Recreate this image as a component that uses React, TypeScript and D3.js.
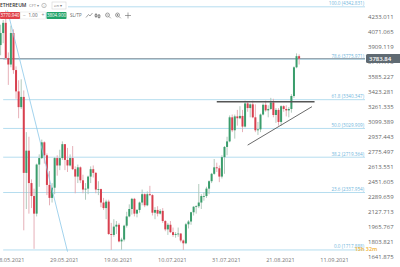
import React from 'react';
import * as d3 from 'd3';

const startDate = Date.UTC(2021, 4, 9);
const opens = [3900,3930,4060,4170,3790,3720,4060,3660,3430,3260,3370,2550,2790,2440,2300,2110,2640,2710,2880,2740,2420,2280,2390,2710,2630,2710,2860,2690,2630,2710,2590,2510,2610,2470,2370,2380,2510,2590,2550,2370,2375,2230,2170,2240,1890,1880,1970,1990,1810,1830,1980,2080,2160,2270,2110,2150,2230,2320,2200,2320,2310,2120,2150,2110,2140,2030,1940,1990,1910,1880,1890,1895,1820,1790,1995,2025,2125,2185,2190,2230,2300,2300,2380,2460,2540,2610,2600,2510,2720,2830,2890,3150,3010,3160,3140,3165,3050,3300,3250,3290,3150,3010,3020,3180,3285,3225,3240,3310,3175,3230,3100,3270,3240,3225,3240,3380,3690,3810];
const highs = [3980,4150,4200,4342,3850,4140,4100,3700,3550,3560,3440,2990,2940,2480,2380,2650,2750,2910,2890,2760,2570,2440,2720,2740,2800,2890,2860,2820,2750,2840,2620,2640,2620,2530,2440,2520,2620,2630,2560,2460,2380,2280,2260,2260,2010,2050,2030,2010,1850,1990,2130,2210,2280,2280,2160,2240,2370,2330,2350,2410,2320,2180,2190,2160,2170,2040,2010,2030,1960,1910,1960,1900,1830,2010,2040,2130,2190,2200,2430,2320,2340,2400,2470,2550,2700,2660,2630,2740,2840,2940,3170,3180,3180,3230,3270,3230,3330,3320,3300,3330,3290,3100,3190,3300,3330,3280,3360,3350,3250,3250,3280,3280,3280,3260,3400,3700,3840,3830];
const lows = [3800,3820,3950,3780,3500,3690,3620,3350,3140,3240,1930,2160,2110,2170,1730,2080,2400,2700,2650,2310,2200,2230,2320,2520,2580,2690,2580,2560,2620,2580,2330,2440,2440,2330,2260,2320,2440,2500,2330,2310,2180,2150,2050,1880,1718,1860,1890,1800,1720,1810,1960,2070,2100,2080,2070,2120,2200,2180,2190,2300,2090,2050,2080,2100,2010,1920,1880,1900,1860,1850,1860,1800,1718,1780,1950,1990,2090,2110,2170,2160,2250,2280,2320,2440,2530,2560,2450,2490,2540,2740,2880,2990,2920,3060,3130,2990,3040,3210,3150,3140,2990,2960,2990,3170,3210,3150,3230,3150,3090,3060,3060,3210,3160,3150,3200,3360,3680,3720];
const closes = [3930,4060,4170,3790,3720,4060,3660,3430,3260,3370,2550,2790,2440,2300,2110,2640,2710,2880,2740,2420,2280,2390,2710,2630,2710,2860,2690,2630,2710,2590,2510,2610,2470,2370,2380,2510,2590,2550,2370,2375,2230,2170,2240,1890,1880,1970,1990,1810,1830,1980,2080,2160,2270,2110,2150,2230,2320,2200,2320,2310,2120,2150,2110,2140,2030,1940,1990,1910,1880,1890,1895,1820,1790,1995,2025,2125,2185,2190,2230,2300,2300,2380,2460,2540,2610,2600,2510,2720,2830,2890,3150,3010,3160,3140,3165,3050,3300,3250,3290,3150,3010,3020,3180,3285,3225,3240,3310,3175,3230,3100,3270,3240,3225,3240,3380,3690,3810,3783.84];

const axisValues = [4233.011,4071.065,3909.119,3747.173,3585.227,3423.281,3261.335,3099.389,2937.443,2775.497,2613.551,2451.605,2289.659,2127.713,1965.767,1803.821,1641.875];
const dateTicks = ['2021-05-08','2021-05-29','2021-06-19','2021-07-10','2021-07-31','2021-08-21','2021-09-11'];
const dateTickLabels = ['08.05.2021','29.05.2021','19.06.2021','10.07.2021','31.07.2021','21.08.2021','11.09.2021'];
const fibRatios = ['100.0','78.6','61.8','50.0','38.2','23.6','0.0'];
const fibPrices = [4342.831,3775.971,3340.347,3029.909,2719.364,2337.954,1717.888];
const currentPrice = 3783.84;
const sellPrice = '3770.940';
const buyPrice = '3804.900';
const countdown = '15h 32m';
// user-drawn trend lines: [date, price] anchors
const blueLine = [['2021-05-12', 4380], ['2021-06-05', 1700]];
const resistLine = [['2021-08-02', 3318], ['2021-09-09', 3318]];
const supportLine = [['2021-08-14', 2850], ['2021-09-08', 3265]];

const GREEN = '#3a9d6c';
const RED = '#d8404f';
const GREEN_WICK = '#a9c4b6';
const RED_WICK = '#e3a7b0';
const FIB = '#b5ddef';
const FIB_TEXT = '#6fb6dc';

function parse(s: string) {
  const [yy, mm, dd] = s.split('-').map(Number);
  return new Date(Date.UTC(yy, mm - 1, dd));
}

export default function App() {
  const W = 400, H = 267;
  const x = d3.scaleUtc().domain([parse('2021-05-29'), parse('2021-09-11')]).range([49.5, 319.7]);
  const y = d3.scaleLinear().domain([1641.875, 4233.011]).range([257, 17]);
  const candles = closes.map((c, i) => ({
    date: d3.utcDay.offset(new Date(startDate), i), o: opens[i], h: highs[i], l: lows[i], c,
  }));
  const plotRight = 365;
  const font = '"Open Sans", "Noto Sans", sans-serif';
  const seg = (pts: any[]) => ({ x1: x(parse(pts[0][0])), y1: y(pts[0][1]), x2: x(parse(pts[1][0])), y2: y(pts[1][1]) });
  const bl = seg(blueLine), rl = seg(resistLine), sl = seg(supportLine);
  return (
    <div style={{ position: 'fixed', left: 0, top: 0, width: W, height: H, background: '#fff' }}>
      <svg width={W} height={H} style={{ display: 'block' }} fontFamily={font}>
        <defs>
          <clipPath id="plot"><rect x={0} y={0} width={plotRight} height={H} /></clipPath>
        </defs>
        <rect width={W} height={H} fill="#fff" />
        <g clipPath="url(#plot)">
          {fibPrices.map((p, i) => (
            <line key={i} x1={x(parse('2021-05-11'))} x2={plotRight} y1={y(p)} y2={y(p)} stroke={FIB} strokeWidth={1} />
          ))}
          <line x1={0} x2={plotRight} y1={y(currentPrice)} y2={y(currentPrice)} stroke="#9aa7b0" strokeWidth={1.2} />
          {candles.map((d, i) => {
            const cx = x(d.date);
            const up = d.c >= d.o;
            const top = y(Math.max(d.o, d.c));
            const bh = Math.max(0.8, Math.abs(y(d.o) - y(d.c)));
            return (
              <g key={i}>
                <line x1={cx} x2={cx} y1={y(d.h)} y2={y(d.l)} stroke={up ? GREEN_WICK : RED_WICK} strokeWidth={0.9} />
                <rect x={cx - 1} y={top} width={2} height={bh} fill={up ? GREEN : RED} />
              </g>
            );
          })}
          <line {...bl} stroke="#8cc8e8" strokeWidth={0.8} />
          <line {...rl} stroke="#555" strokeWidth={1.3} />
          <line {...sl} stroke="#444" strokeWidth={0.8} />
        </g>
        {fibRatios.map((r, i) => (
          <text key={i} x={364} y={y(fibPrices[i]) - 1.5} fontSize={4.6} fill={FIB_TEXT} textAnchor="end">
            {`${r} (${fibPrices[i].toFixed(3)})`}
          </text>
        ))}
        <text x={366} y={y(fibPrices[6]) + 1.5} fontSize={5.4} fontWeight={700} fill="#f2b233" fillOpacity={0.85} textAnchor="middle">{countdown}</text>
        {axisValues.map((v, i) => (
          <text key={i} x={368} y={y(v) + 2} fontSize={6} fill="#666">{v.toFixed(3)}</text>
        ))}
        <g>
          <rect x={366} y={y(currentPrice) - 4.5} width={36} height={9} rx={1.5} fill="#5f6a72" />
          <text x={369} y={y(currentPrice) + 2.2} fontSize={6} fill="#fff" fontWeight={600}>{currentPrice.toFixed(2)}</text>
        </g>
        {dateTicks.map((t, i) => (
          <text key={i} x={x(parse(t)) + 0.5} y={262} fontSize={5.6} fill="#777">{dateTickLabels[i]}</text>
        ))}
        <g>
          <rect x={0} y={0} width={68} height={10.5} fill="#fff" />
          <text x={0} y={7.3} fontSize={5} fontWeight={600} fill="#333">ETHEREUM</text>
          <text x={29} y={7.3} fontSize={4.2} fill="#888">CFT ▾</text>
          <circle cx={44} cy={5.5} r={2.2} fill="none" stroke="#888" strokeWidth={0.5} />
          <text x={43.4} y={7} fontSize={3.6} fill="#888">i</text>
          <rect x={52} y={2} width={14} height={7} fill="#fff" stroke="#ccc" strokeWidth={0.5} />
          <text x={54} y={7.2} fontSize={4.3} fill="#777">en ▾</text>
          <rect x={0} y={12} width={20} height={7} fill="#e0424a" rx={0.8} />
          <text x={10} y={17.3} fontSize={4.5} fill="#fff" textAnchor="middle">{sellPrice}</text>
          <rect x={20.5} y={12} width={25} height={7} fill="#fff" stroke="#ddd" strokeWidth={0.5} />
          <text x={23} y={17.3} fontSize={5} fill="#888">−</text>
          <text x={33} y={17.3} fontSize={4.5} fill="#555" textAnchor="middle">1.00</text>
          <text x={41.5} y={17.3} fontSize={5} fill="#888">+</text>
          <rect x={46.5} y={12} width={20} height={7} fill="#22a36a" rx={0.8} />
          <text x={56.5} y={17.3} fontSize={4.5} fill="#fff" textAnchor="middle">{buyPrice}</text>
          <text x={70} y={17.3} fontSize={4.5} fill="#666">SL/TP</text>
          <path d="M86 17.5 L88.5 14.5 L90 16 L92.5 13" fill="none" stroke="#666" strokeWidth={0.6} />
          <path d="M96 13 V18 M95 14.5 h2 v2 h-2 z M99 14 V18.5 M98 15 h2 v2.5 h-2 z" fill="none" stroke="#666" strokeWidth={0.6} />
          <circle cx={107.5} cy={15} r={2} fill="none" stroke="#666" strokeWidth={0.6} />
          <path d="M109 16.5 L110.8 18.3 M106.5 15 h2" stroke="#666" strokeWidth={0.6} />
          <circle cx={117.5} cy={15} r={2} fill="none" stroke="#666" strokeWidth={0.6} />
          <path d="M119 16.5 L120.8 18.3 M116.5 15 h2 M117.5 14 v2" stroke="#666" strokeWidth={0.6} />
          <path d="M128 12.5 V18.5 M125 15.5 H131" stroke="#666" strokeWidth={0.6} />
        </g>
      </svg>
    </div>
  );
}
